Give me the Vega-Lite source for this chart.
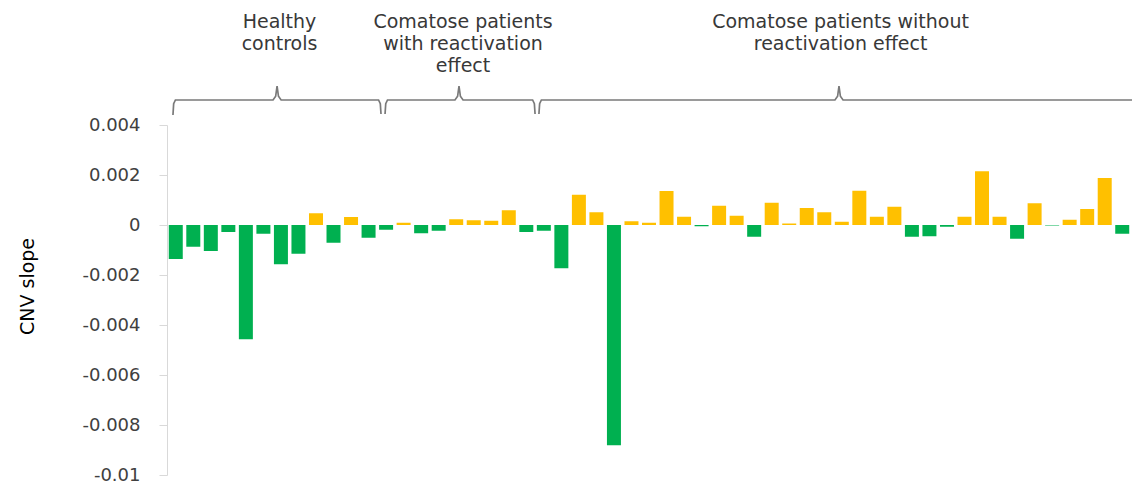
{
  "$schema": "https://vega.github.io/schema/vega-lite/v6.json",
  "autosize": {"type": "none"},
  "width": 964,
  "height": 350,
  "padding": {"left": 167, "top": 125, "right": 1, "bottom": 12},
  "background": "white",
  "config": {"view": {"stroke": null}},
  "datasets": {
    "bars": [
      {"i":1,"v":-0.00136},{"i":2,"v":-0.00087},{"i":3,"v":-0.00104},{"i":4,"v":-0.00028},{"i":5,"v":-0.00457},
      {"i":6,"v":-0.00035},{"i":7,"v":-0.00157},{"i":8,"v":-0.00115},{"i":9,"v":0.00047},{"i":10,"v":-0.00071},
      {"i":11,"v":0.00032},{"i":12,"v":-0.00051},{"i":13,"v":-0.00019},{"i":14,"v":0.00009},{"i":15,"v":-0.00033},
      {"i":16,"v":-0.00023},{"i":17,"v":0.00023},{"i":18,"v":0.00019},{"i":19,"v":0.00017},{"i":20,"v":0.00059},
      {"i":21,"v":-0.00028},{"i":22,"v":-0.00023},{"i":23,"v":-0.00173},{"i":24,"v":0.00121},{"i":25,"v":0.00051},
      {"i":26,"v":-0.00881},{"i":27,"v":0.00015},{"i":28,"v":0.00009},{"i":29,"v":0.00136},{"i":30,"v":0.00033},
      {"i":31,"v":-0.00005},{"i":32,"v":0.00077},{"i":33,"v":0.00037},{"i":34,"v":-0.00047},{"i":35,"v":0.00089},
      {"i":36,"v":0.00006},{"i":37,"v":0.00068},{"i":38,"v":0.00051},{"i":39,"v":0.00013},{"i":40,"v":0.00137},
      {"i":41,"v":0.00033},{"i":42,"v":0.00073},{"i":43,"v":-0.00047},{"i":44,"v":-0.00045},{"i":45,"v":-0.00007},
      {"i":46,"v":0.00033},{"i":47,"v":0.00215},{"i":48,"v":0.00033},{"i":49,"v":-0.00055},{"i":50,"v":0.00087},
      {"i":51,"v":-0.00002},{"i":52,"v":0.00021},{"i":53,"v":0.00064},{"i":54,"v":0.00188},{"i":55,"v":-0.00035}
    ],
    "braces": [
      {"g":"a","o":1,"i":0.84,"v":0.0044},{"g":"a","o":2,"i":0.88,"v":0.00485},{"g":"a","o":3,"i":0.98,"v":0.005},
      {"g":"a","o":4,"i":6.55,"v":0.005},{"g":"a","o":5,"i":6.70,"v":0.00515},{"g":"a","o":6,"i":6.78,"v":0.00556},
      {"g":"a","o":7,"i":6.86,"v":0.00515},{"g":"a","o":8,"i":7.01,"v":0.005},{"g":"a","o":9,"i":12.57,"v":0.005},
      {"g":"a","o":10,"i":12.67,"v":0.00485},{"g":"a","o":11,"i":12.71,"v":0.00444},
      {"g":"b","o":1,"i":12.94,"v":0.00444},{"g":"b","o":2,"i":12.98,"v":0.00485},{"g":"b","o":3,"i":13.08,"v":0.005},
      {"g":"b","o":4,"i":16.93,"v":0.005},{"g":"b","o":5,"i":17.08,"v":0.00515},{"g":"b","o":6,"i":17.16,"v":0.00556},
      {"g":"b","o":7,"i":17.24,"v":0.00515},{"g":"b","o":8,"i":17.39,"v":0.005},{"g":"b","o":9,"i":21.36,"v":0.005},
      {"g":"b","o":10,"i":21.46,"v":0.00485},{"g":"b","o":11,"i":21.50,"v":0.00444},
      {"g":"c","o":1,"i":21.72,"v":0.00444},{"g":"c","o":2,"i":21.76,"v":0.00485},{"g":"c","o":3,"i":21.86,"v":0.005},
      {"g":"c","o":4,"i":38.61,"v":0.005},{"g":"c","o":5,"i":38.76,"v":0.00515},{"g":"c","o":6,"i":38.84,"v":0.00556},
      {"g":"c","o":7,"i":38.92,"v":0.00515},{"g":"c","o":8,"i":39.07,"v":0.005},{"g":"c","o":9,"i":55.6,"v":0.005}
    ],
    "labels": [
      {"i":6.92,"v":0.0079,"t":"Healthy\ncontrols"},
      {"i":17.39,"v":0.0079,"t":"Comatose patients\nwith reactivation\neffect"},
      {"i":38.93,"v":0.0079,"t":"Comatose patients without\nreactivation effect"}
    ]
  },
  "encoding": {
    "x": {"field": "i", "type": "quantitative", "scale": {"domain": [0.5, 55.5], "nice": false, "zero": false, "padding": 0}, "axis": null},
    "y": {
      "field": "v", "type": "quantitative",
      "scale": {"domain": [-0.01, 0.004], "nice": false, "zero": false},
      "axis": {
        "title": "CNV slope",
        "values": [-0.01, -0.008, -0.006, -0.004, -0.002, 0, 0.002, 0.004],
        "labelExpr": "datum.value < 0 ? '-' + format(-datum.value, '~g') : format(datum.value, '~g')",
        "grid": false,
        "domainColor": "#d9d9d9",
        "tickColor": "#d9d9d9",
        "tickSize": 8,
        "labelPadding": 19,
        "labelFont": "DejaVu Sans",
        "labelFontSize": 18,
        "labelColor": "#404040",
        "titleFont": "DejaVu Sans",
        "titleFontSize": 19,
        "titleFontWeight": "normal",
        "titleColor": "#000000",
        "titleX": -130,
        "titleY": 161,
        "titleAngle": -90,
        "titleAlign": "center",
        "titleBaseline": "bottom"
      }
    }
  },
  "layer": [
    {
      "data": {"name": "bars"},
      "mark": {"type": "bar", "width": 14},
      "encoding": {
        "color": {"condition": {"test": "datum.v < 0", "value": "#00B050"}, "value": "#FFC000"}
      }
    },
    {
      "data": {"name": "braces"},
      "mark": {"type": "line", "color": "#7a7a7a", "strokeWidth": 1.7, "clip": false},
      "encoding": {
        "detail": {"field": "g"},
        "order": {"field": "o", "type": "quantitative"}
      }
    },
    {
      "data": {"name": "labels"},
      "mark": {"type": "text", "align": "center", "baseline": "alphabetic", "lineBreak": "\n", "lineHeight": 22, "font": "DejaVu Sans", "fontSize": 19, "color": "#383838", "clip": false},
      "encoding": {
        "text": {"field": "t"}
      }
    }
  ]
}
